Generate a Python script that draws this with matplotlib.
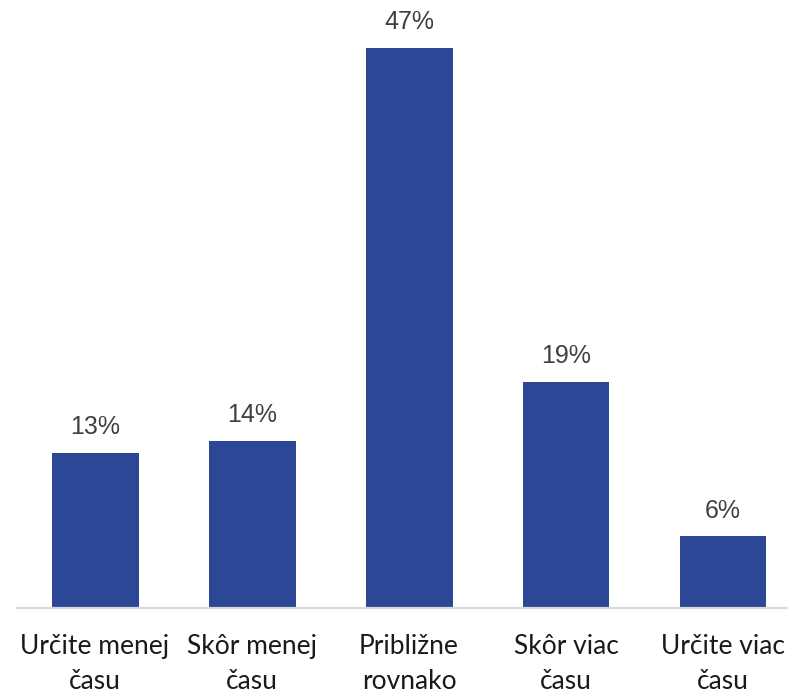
import matplotlib
matplotlib.use("Agg")
import matplotlib.pyplot as plt

categories = ["Určite menej\nčasu", "Skôr menej\nčasu", "Približne\nrovnako", "Skôr viac\nčasu", "Určite viac\nčasu"]
values = [13, 14, 47, 19, 6]
value_labels = ["13%", "14%", "47%", "19%", "6%"]

W, H = 788, 693
fig = plt.figure(figsize=(W / 100, H / 100), dpi=100)
ax = fig.add_axes([17 / W, (H - 608) / H, (788 - 17) / W, 608 / H])

x = list(range(len(categories)))
bars = ax.bar(x, values, width=0.554, color="#2C4795", zorder=2)

ax.set_xlim(-0.497, 4.414)
ax.set_ylim(0, 608 / 11.92)

for rect, lab in zip(bars, value_labels):
    ax.annotate(lab, (rect.get_x() + rect.get_width() / 2, rect.get_height()),
                xytext=(0, 10), textcoords="offset points", ha="center", va="bottom",
                fontsize=18, color="#404040", family="Liberation Sans")

ax.set_xticks(x)
ax.set_xticklabels(categories, fontsize=19, family="Lato", color="#1a1a1a", linespacing=1.5)
ax.tick_params(axis="x", length=0, pad=19)
ax.set_yticks([])

for s in ["top", "right", "left"]:
    ax.spines[s].set_visible(False)
ax.spines["bottom"].set_color("#d9d9d9")
ax.spines["bottom"].set_linewidth(1.6)

fig.savefig("out.png", dpi=100)
